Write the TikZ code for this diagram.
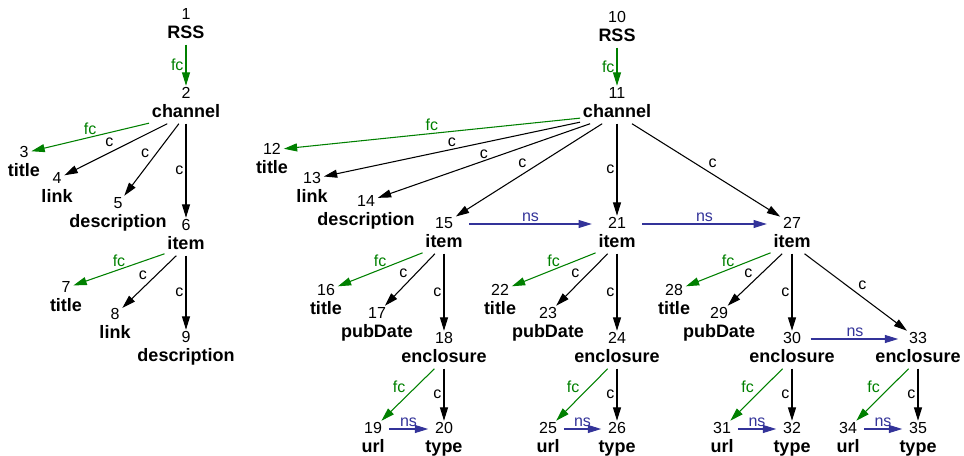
\documentclass[tikz,border=0pt]{standalone}
\usepackage{fontspec}
\setmainfont{Liberation Sans}
\usetikzlibrary{positioning}
\usetikzlibrary{arrows.meta}
\definecolor{fcgreen}{RGB}{0,128,0}
\definecolor{nsblue}{RGB}{51,51,153}

\begin{document}
\begin{tikzpicture}[x=0.75pt, y=-0.75pt,
	num/.style = {font=\fontsize{12}{14}\selectfont, inner sep=2pt,
		text height=0.75em, text depth=0.05em},
	wd/.style = {font=\bfseries\fontsize{13.5}{16}\selectfont, inner sep=2pt,
		text height=0.75em, text depth=0.22em},
	every edge/.append style = {line width=0.8pt},
	fc/.style = {fcgreen, -{Triangle[length=10pt,width=6pt]}},
	ch/.style = {black, -{Triangle[length=10pt,width=6pt]}},
	ns/.style = {nsblue, -{Triangle[length=10pt,width=6pt]}, shorten <=3pt, shorten >=3pt},
	]
	\useasboundingbox (0,0) rectangle (964,456);
	\tikzset{every node/.append style={font=\fontsize{12}{14}\selectfont}}
	% first tree
	\node[num] (t1) at (186,15) {1};   \node[wd, below=2pt of t1] (w1) {RSS};
	\node[num] (t2) at (186,94) {2};   \node[wd, below=2pt of t2] (w2) {channel};
	\node[num] (t3) at (24,153) {3};   \node[wd, below=2pt of t3] (w3) {title};
	\node[num] (t4) at (57,179) {4};   \node[wd, below=2pt of t4] (w4) {link};
	\node[num] (t5) at (118,204) {5};  \node[wd, below=2pt of t5] (w5) {description};
	\node[num] (t6) at (186,226) {6};  \node[wd, below=2pt of t6] (w6) {item};
	\node[num] (t7) at (66,288) {7};   \node[wd, below=2pt of t7] (w7) {title};
	\node[num] (t8) at (115,315) {8};  \node[wd, below=2pt of t8] (w8) {link};
	\node[num] (t9) at (186,338) {9};  \node[wd, below=2pt of t9] (w9) {description};
	% second tree
	\node[num] (t10) at (617,18) {10};  \node[wd, below=2pt of t10] (w10) {RSS};
	\node[num] (t11) at (617,94) {11};  \node[wd, below=2pt of t11] (w11) {channel};
	\node[num] (t12) at (272,150) {12}; \node[wd, below=2pt of t12] (w12) {title};
	\node[num] (t13) at (312,179) {13}; \node[wd, below=2pt of t13] (w13) {link};
	\node[num] (t14) at (366,202) {14}; \node[wd, below=2pt of t14] (w14) {description};
	\node[num] (t15) at (444,224) {15}; \node[wd, below=2pt of t15] (w15) {item};
	\node[num] (t21) at (617,224) {21}; \node[wd, below=2pt of t21] (w21) {item};
	\node[num] (t27) at (792,224) {27}; \node[wd, below=2pt of t27] (w27) {item};
	\node[num] (t16) at (326,291) {16}; \node[wd, below=2pt of t16] (w16) {title};
	\node[num] (t17) at (377,314) {17}; \node[wd, below=2pt of t17] (w17) {pubDate};
	\node[num] (t18) at (444,339) {18}; \node[wd, below=2pt of t18] (w18) {enclosure};
	\node[num] (t19) at (373,429) {19}; \node[wd, below=2pt of t19] (w19) {url};
	\node[num] (t20) at (444,429) {20}; \node[wd, below=2pt of t20] (w20) {type};
	\node[num] (t22) at (500,291) {22}; \node[wd, below=2pt of t22] (w22) {title};
	\node[num] (t23) at (548,314) {23}; \node[wd, below=2pt of t23] (w23) {pubDate};
	\node[num] (t24) at (617,339) {24}; \node[wd, below=2pt of t24] (w24) {enclosure};
	\node[num] (t25) at (548,429) {25}; \node[wd, below=2pt of t25] (w25) {url};
	\node[num] (t26) at (617,429) {26}; \node[wd, below=2pt of t26] (w26) {type};
	\node[num] (t28) at (674,291) {28}; \node[wd, below=2pt of t28] (w28) {title};
	\node[num] (t29) at (719,314) {29}; \node[wd, below=2pt of t29] (w29) {pubDate};
	\node[num] (t30) at (792,339) {30}; \node[wd, below=2pt of t30] (w30) {enclosure};
	\node[num] (t31) at (722,429) {31}; \node[wd, below=2pt of t31] (w31) {url};
	\node[num] (t32) at (792,429) {32}; \node[wd, below=2pt of t32] (w32) {type};
	\node[num] (t33) at (918,339) {33}; \node[wd, below=2pt of t33] (w33) {enclosure};
	\node[num] (t34) at (848,429) {34}; \node[wd, below=2pt of t34] (w34) {url};
	\node[num] (t35) at (918,429) {35}; \node[wd, below=2pt of t35] (w35) {type};
	% first child
	\path [fc, every node/.append style={inner sep=1.5pt}]
	(w1) edge node[left] {fc} (t2)
	(w2) edge node[above] {fc} (t3)
	(w6) edge node[above] {fc} (t7)
	(w10) edge node[left] {fc} (t11)
	(w11) edge node[above] {fc} (t12)
	(w15) edge node[above] {fc} (t16)
	(w21) edge node[above] {fc} (t22)
	(w27) edge node[above] {fc} (t28)
	(w18) edge node[above left] {fc} (t19)
	(w24) edge node[above left] {fc} (t25)
	(w30) edge node[above left] {fc} (t31)
	(w33) edge node[above left] {fc} (t34);
	% child
	\path [ch, every node/.append style={inner sep=1.5pt}]
	(w2) edge node[above left] {c} (t4)
	(w2) edge node[above left] {c} (t5)
	(w2) edge node[left] {c} (t6)
	(w6) edge node[above left] {c} (t8)
	(w6) edge node[left] {c} (t9)
	(w11) edge node[above] {c} (t13)
	(w11) edge node[above] {c} (t14)
	(w11) edge node[above left] {c} (t15)
	(w11) edge node[left] {c} (t21)
	(w11) edge node[above right] {c} (t27)
	(w15) edge node[above left] {c} (t17)
	(w15) edge node[left] {c} (t18)
	(w21) edge node[above left] {c} (t23)
	(w21) edge node[left] {c} (t24)
	(w27) edge node[above left] {c} (t29)
	(w27) edge node[left] {c} (t30)
	(w27) edge node[above right] {c} (t33)
	(w18) edge node[left] {c} (t20)
	(w24) edge node[left] {c} (t26)
	(w30) edge node[left] {c} (t32)
	(w33) edge node[left] {c} (t35);
	% next sibling
	\path [ns, every node/.append style={inner sep=1.5pt}]
	(t15) edge[shorten <=10pt, shorten >=10pt] node[above] {ns} (t21)
	(t21) edge[shorten <=10pt, shorten >=10pt] node[above] {ns} (t27)
	(t30) edge[shorten <=5pt, shorten >=6pt] node[above] {ns} (t33)
	(t19) edge node[above] {ns} (t20)
	(t25) edge node[above] {ns} (t26)
	(t31) edge node[above] {ns} (t32)
	(t34) edge node[above] {ns} (t35);
\end{tikzpicture}
\end{document}
